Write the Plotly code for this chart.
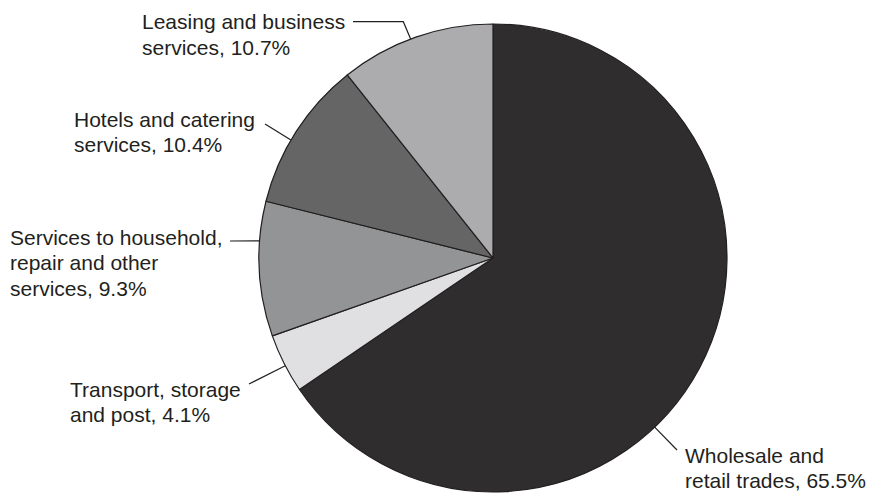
import math
import plotly.graph_objects as go

# ---- data ----
labels = ["Wholesale and retail trades", "Transport, storage and post",
          "Services to household, repair and other services",
          "Hotels and catering services", "Leasing and business services"]
values = [65.5, 4.1, 9.3, 10.4, 10.7]
label_lines = [["Wholesale and", "retail trades, 65.5%"],
               ["Transport, storage", "and post, 4.1%"],
               ["Services to household,", "repair and other", "services, 9.3%"],
               ["Hotels and catering", "services, 10.4%"],
               ["Leasing and business", "services, 10.7%"]]
colors = ["#2f2d2e", "#e0e0e2", "#939496", "#656566", "#acacaf"]

# ---- layout constants (pixels) ----
W, H = 871, 493
CX, CY, R = 493, 258, 234
TXT = "#231f20"
LINE_H = 25.6

# annotation block: left x, centre of first line
text_pos = [(683, 455), (68, 389), (8, 237), (72, 119), (139.5, 21.7)]
# leader lines: fraction within slice for edge anchor, list of outer points
leader = {
    0: (0.578, [(677, 450)]),
    1: (0.46, [(249, 384)]),
    2: (0.706, [(230, 241)]),
    3: (0.434, [(265, 124)]),
    4: (0.465, [(403.3, 21.7), (353, 21.7)]),
}

def px(x):
    return x / W

def py(y):
    return 1 - y / H

fig = go.Figure(go.Pie(
    labels=labels, values=values, sort=False, direction="clockwise",
    rotation=0, textinfo="none", hoverinfo="label+percent",
    marker=dict(colors=colors, line=dict(color=TXT, width=1.2)),
    domain=dict(x=[px(CX - R), px(CX + R)], y=[py(CY + R), py(CY - R)]),
    showlegend=False,
))

total = sum(values)
cum = [sum(values[:i]) for i in range(len(values))]
shapes = []
for i, (frac, pts) in leader.items():
    ang = math.radians((cum[i] + frac * values[i]) / total * 360)
    ex = CX + R * math.sin(ang)
    ey = CY - R * math.cos(ang)
    path_pts = [(ex, ey)] + pts
    path = "M " + " L ".join(f"{px(x)},{py(y)}" for x, y in path_pts)
    shapes.append(dict(type="path", xref="paper", yref="paper", path=path,
                       line=dict(color=TXT, width=1.2)))

annotations = []
for lines, (x, y) in zip(label_lines, text_pos):
    for k, t in enumerate(lines):
        annotations.append(dict(text=t, x=px(x), y=py(y + k * LINE_H),
                                xref="paper", yref="paper",
                                xanchor="left", yanchor="middle", align="left",
                                showarrow=False,
                                font=dict(family="Liberation Sans, Arial, sans-serif",
                                          size=21, color=TXT)))

fig.update_layout(width=W, height=H, margin=dict(l=0, r=0, t=0, b=0),
                  paper_bgcolor="white", plot_bgcolor="white",
                  shapes=shapes, annotations=annotations)

fig.write_html("out.html")
